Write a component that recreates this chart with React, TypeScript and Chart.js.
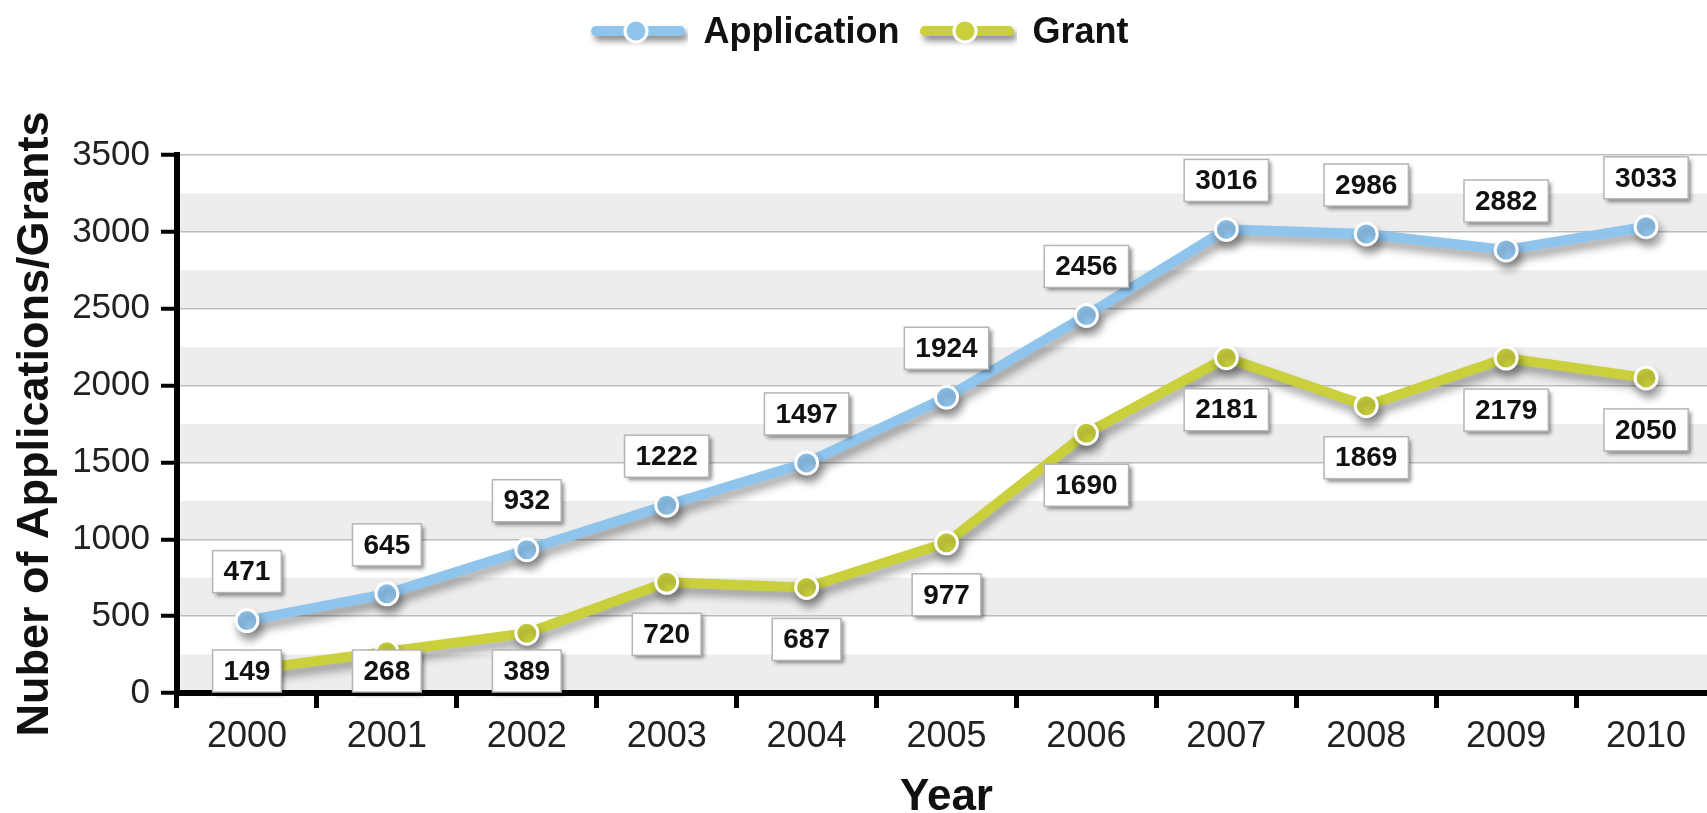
import React, { useEffect, useRef } from 'react';
import { Chart, registerables } from 'chart.js';

Chart.register(...registerables);

const years = ['2000', '2001', '2002', '2003', '2004', '2005', '2006', '2007', '2008', '2009', '2010'];
const applications = [471, 645, 932, 1222, 1497, 1924, 2456, 3016, 2986, 2882, 3033];
const grants = [149, 268, 389, 720, 687, 977, 1690, 2181, 1869, 2179, 2050];
const seriesNames = ['Application', 'Grant'];
const seriesColors = ['#8FC4EC', '#C9D03C'];
const labelSides = ['above', 'below'];
const yMin = 0;
const yMax = 3500;
const yGridStep = 250;
const yLabelStep = 500;
const yTitle = 'Nuber of Applications/Grants';
const xTitle = 'Year';

const FONT = '"Liberation Sans", Arial, Helvetica, sans-serif';

function makeLegendSymbol(color: string) {
  const c = document.createElement('canvas');
  c.width = 100;
  c.height = 40;
  const g = c.getContext('2d')!;
  g.save();
  g.shadowColor = 'rgba(0,0,0,0.45)';
  g.shadowBlur = 6;
  g.shadowOffsetX = 3;
  g.shadowOffsetY = 5;
  g.strokeStyle = color;
  g.lineWidth = 10;
  g.lineCap = 'round';
  g.beginPath();
  g.moveTo(8, 18);
  g.lineTo(92, 18);
  g.stroke();
  g.restore();
  g.beginPath();
  g.arc(48, 18, 11, 0, Math.PI * 2);
  g.fillStyle = color;
  g.fill();
  g.lineWidth = 3;
  g.strokeStyle = '#ffffff';
  g.stroke();
  return c;
}

const bandsPlugin = {
  id: 'bands',
  beforeDraw(chart: any) {
    const { ctx, chartArea } = chart;
    const y = chart.scales.y;
    ctx.save();
    ctx.fillStyle = '#ffffff';
    ctx.fillRect(chartArea.left, chartArea.top, chartArea.right - chartArea.left, chartArea.bottom - chartArea.top);
    ctx.fillStyle = '#EDEDED';
    for (let v = yMin; v < yMax; v += yLabelStep) {
      const top = y.getPixelForValue(v + yGridStep);
      const bot = y.getPixelForValue(v);
      ctx.fillRect(chartArea.left, top, chartArea.right - chartArea.left, bot - top);
    }
    ctx.restore();
  },
};

const shadowPlugin = {
  id: 'lineShadow',
  beforeDatasetDraw(chart: any) {
    const ctx = chart.ctx;
    ctx.save();
    ctx.shadowColor = 'rgba(0,0,0,0.35)';
    ctx.shadowBlur = 8;
    ctx.shadowOffsetX = 3;
    ctx.shadowOffsetY = 7;
  },
  afterDatasetDraw(chart: any) {
    chart.ctx.restore();
  },
};

const legendSpacePlugin = {
  id: 'legendSpace',
  afterInit(chart: any) {
    const lg = chart.legend;
    if (lg && !lg.__wrapped) {
      const orig = lg.fit.bind(lg);
      lg.fit = () => {
        orig();
        lg.height = 160;
      };
      lg.__wrapped = true;
    }
  },
};

const valueLabelPlugin = {
  id: 'valueLabels',
  afterDatasetsDraw(chart: any) {
    const ctx = chart.ctx;
    const area = chart.chartArea;
    chart.data.datasets.forEach((ds: any, di: number) => {
      const meta = chart.getDatasetMeta(di);
      meta.data.forEach((pt: any, i: number) => {
        const text = String(ds.data[i]);
        ctx.save();
        ctx.font = `bold 28px ${FONT}`;
        const tw = ctx.measureText(text).width;
        const w = tw + 22;
        const h = 42;
        let cy = labelSides[di] === 'above' ? pt.y - 49 : pt.y + 52;
        if (cy + h / 2 > area.bottom - 1) cy = area.bottom - 1 - h / 2;
        const x0 = pt.x - w / 2;
        const y0 = cy - h / 2;
        ctx.shadowColor = 'rgba(0,0,0,0.45)';
        ctx.shadowBlur = 4;
        ctx.shadowOffsetX = 3;
        ctx.shadowOffsetY = 3;
        ctx.fillStyle = '#ffffff';
        ctx.fillRect(x0, y0, w, h);
        ctx.restore();
        ctx.save();
        ctx.strokeStyle = '#B5B5B5';
        ctx.lineWidth = 1.5;
        ctx.strokeRect(x0, y0, w, h);
        ctx.font = `bold 28px ${FONT}`;
        ctx.fillStyle = '#111111';
        ctx.textAlign = 'center';
        ctx.textBaseline = 'middle';
        ctx.fillText(text, pt.x, cy + 1);
        ctx.restore();
      });
    });
  },
};

export default function App() {
  const ref = useRef<HTMLCanvasElement | null>(null);

  useEffect(() => {
    if (!ref.current) return;
    const symbols = seriesColors.map((c) => makeLegendSymbol(c));
    const chart = new Chart(ref.current, {
      type: 'line',
      data: {
        labels: years,
        datasets: [
          {
            label: seriesNames[0],
            data: applications,
            borderColor: seriesColors[0],
            backgroundColor: seriesColors[0],
            pointBackgroundColor: seriesColors[0],
            pointBorderColor: '#ffffff',
            pointBorderWidth: 3,
            pointRadius: 11,
            borderWidth: 10,
            tension: 0,
            fill: false,
          },
          {
            label: seriesNames[1],
            data: grants,
            borderColor: seriesColors[1],
            backgroundColor: seriesColors[1],
            pointBackgroundColor: seriesColors[1],
            pointBorderColor: '#ffffff',
            pointBorderWidth: 3,
            pointRadius: 11,
            borderWidth: 10,
            tension: 0,
            fill: false,
          },
        ],
      },
      options: {
        animation: false,
        responsive: true,
        maintainAspectRatio: false,
        layout: { padding: { top: -5, right: 11, left: 0, bottom: 0 } },
        plugins: {
          tooltip: { enabled: false },
          legend: {
            display: true,
            position: 'top',
            labels: {
              usePointStyle: true,
              pointStyleWidth: 95,
              padding: 20,
              color: '#111111',
              font: { family: FONT, size: 36, weight: 'bold' },
              generateLabels: (ch: any) => {
                const items = Chart.defaults.plugins.legend.labels.generateLabels(ch);
                return items.map((it: any, idx: number) => ({ ...it, pointStyle: symbols[idx] }));
              },
            },
          },
        },
        scales: {
          x: {
            type: 'category',
            offset: true,
            afterFit: (s: any) => {
              s.height = 120;
            },
            grid: {
              offset: true,
              drawOnChartArea: false,
              drawTicks: true,
              tickLength: 15,
              tickWidth: 5,
              tickColor: '#000000',
            },
            border: { display: true, color: '#000000', width: 6 },
            ticks: {
              color: '#222222',
              padding: 7,
              font: { family: FONT, size: 36 },
              maxRotation: 0,
            },
            title: {
              display: true,
              text: xTitle,
              color: '#111111',
              font: { family: FONT, size: 44, weight: 'bold', lineHeight: 1 },
              padding: { top: 0, bottom: -7 },
            },
          },
          y: {
            min: yMin,
            max: yMax,
            afterFit: (s: any) => {
              s.width = 177;
            },
            grid: {
              color: '#BDBDBD',
              lineWidth: 1.5,
              drawTicks: true,
              tickLength: 16,
              tickWidth: 4,
              tickColor: (c: any) => (c.tick && c.tick.value % yLabelStep === 0 ? '#000000' : 'rgba(0,0,0,0)'),
            },
            border: { display: true, color: '#000000', width: 6 },
            ticks: {
              stepSize: yGridStep,
              color: '#222222',
              padding: 11,
              font: { family: FONT, size: 35 },
              callback: (v: any) => (Number(v) % yLabelStep === 0 ? String(v) : ''),
            },
            title: {
              display: true,
              text: yTitle,
              color: '#111111',
              font: { family: FONT, size: 45, weight: 'bold', lineHeight: 1 },
              padding: { top: 13, bottom: 0 },
            },
          },
        },
      },
      plugins: [bandsPlugin, shadowPlugin, legendSpacePlugin, valueLabelPlugin],
    } as any);
    return () => chart.destroy();
  }, []);

  return (
    <div style={{ position: 'fixed', left: 0, top: 0, width: 1707, height: 813, overflow: 'hidden', background: '#ffffff' }}>
      <div style={{ position: 'absolute', left: 0, top: 0, width: 1730, height: 813 }}>
        <canvas ref={ref} />
      </div>
    </div>
  );
}
